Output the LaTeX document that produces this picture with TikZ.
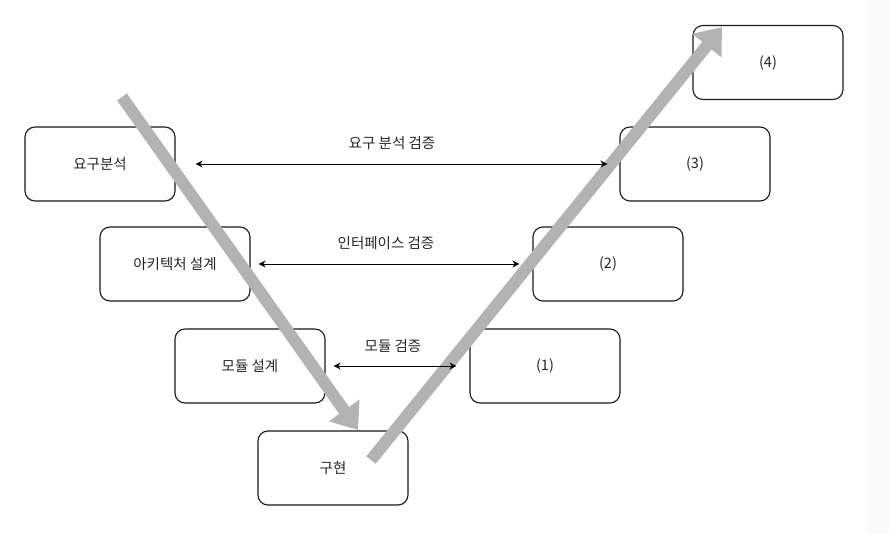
\documentclass[tikz,border=0pt]{standalone}
\usepackage{fontspec}
\setmainfont{Noto Sans CJK KR}
\usetikzlibrary{arrows.meta}
\definecolor{bigarrow}{HTML}{B3B3B3}
\definecolor{boxline}{HTML}{1A1A1A}
\tikzset{
  stage/.style={draw=boxline, line width=1.1pt, rounded corners=10pt, minimum width=150pt, minimum height=74pt, inner sep=0pt, font=\fontsize{14.5}{16}\selectfont, text=black!85},
  verify/.style={line width=0.9pt, {Stealth[length=7pt,width=7pt]}-{Stealth[length=7pt,width=7pt]}},
  vlabel/.style={font=\fontsize{14.5}{16}\selectfont, text=black!85, inner sep=0pt},
  flow/.style={draw=bigarrow, line width=12pt, -{Triangle[length=24pt,width=36pt]}}
}
\begin{document}
\begin{tikzpicture}[x=1pt,y=-1pt]
\useasboundingbox (0,0) rectangle (889,534);
\fill[white] (0,0) rectangle (889,534);
\fill[black!2] (867,0) rectangle (889,534);
% boxes
\node[stage] (req) at (100,164) {요구분석};
\node[stage] (arch) at (175,264) {아키텍처 설계};
\node[stage] (mod) at (250,366) {모듈 설계};
\node[stage] (impl) at (333,468) {구현};
\node[stage] (v1) at (545,366) {(1)};
\node[stage] (v2) at (608,264) {(2)};
\node[stage] (v3) at (695,164) {(3)};
\node[stage] (v4) at (768,62.5) {(4)};
% big flow arrows
\coordinate (dstart) at (122,97);
\coordinate (dend) at (358,430);
\coordinate (ustart) at (371,460);
\coordinate (uend) at (722,27);
\draw[flow] (dstart) -- (dend);
\draw[flow] (ustart) -- (uend);
% verification arrows
\draw[verify, shorten <=20pt, shorten >=12pt] (req.east) -- (v3.west);
\draw[verify, shorten <=8pt, shorten >=13pt] (arch.east) -- (v2.west);
\draw[verify, shorten <=8pt, shorten >=13pt] (mod.east) -- (v1.west);
\node[vlabel] (l3) at (392,143) {요구 분석 검증};
\node[vlabel] (l2) at (386,243) {인터페이스 검증};
\node[vlabel] (l1) at (393,346) {모듈 검증};
\end{tikzpicture}
\end{document}
